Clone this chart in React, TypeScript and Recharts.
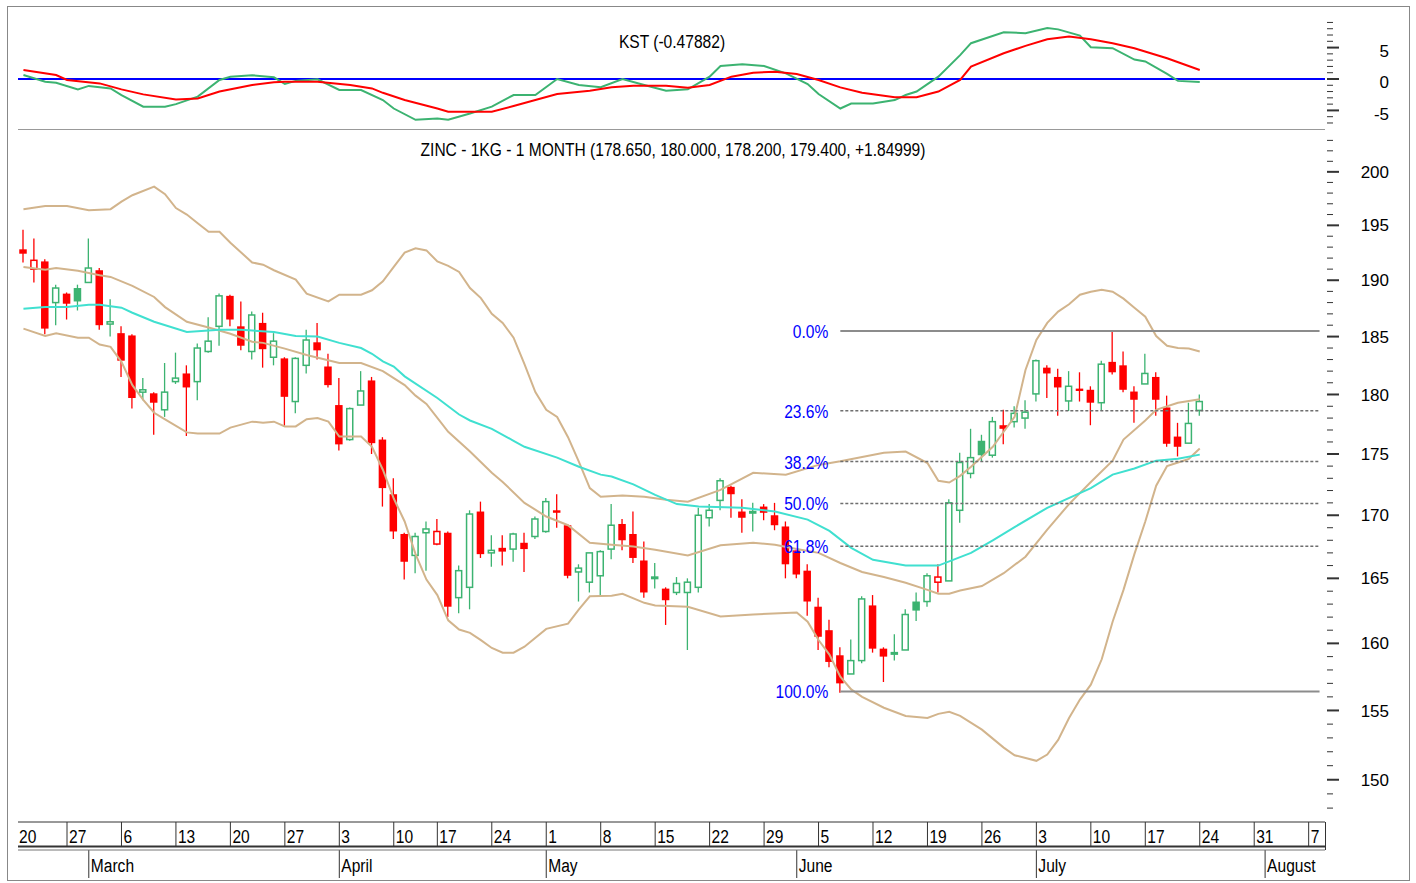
import React from 'react';
import { ComposedChart, Bar, Line, XAxis, YAxis, ReferenceLine } from 'recharts';

const W = 1416;
const H = 883;

// trading calendar (weekdays, Good Friday closed)
const firstDay = '2017-02-21';
const holidays = ['2017-04-14'];
const slotCount = 120;

const weekTicks = [
  '2017-02-21', '2017-02-27', '2017-03-06', '2017-03-13', '2017-03-20', '2017-03-27',
  '2017-04-03', '2017-04-10', '2017-04-17', '2017-04-24', '2017-05-01', '2017-05-08',
  '2017-05-15', '2017-05-22', '2017-05-29', '2017-06-05', '2017-06-12', '2017-06-19',
  '2017-06-26', '2017-07-03', '2017-07-10', '2017-07-17', '2017-07-24', '2017-07-31',
  '2017-08-07',
];
const weekLabels = [
  '20', '27', '6', '13', '20', '27', '3', '10', '17', '24', '1', '8', '15',
  '22', '29', '5', '12', '19', '26', '3', '10', '17', '24', '31', '7',
];
const monthTicks = ['2017-03-01', '2017-04-03', '2017-05-01', '2017-06-01', '2017-07-03', '2017-08-01'];
const monthNames = ['March', 'April', 'May', 'June', 'July', 'August'];

const opens = [
  192.8, 191.0, 191.7, 188.0, 188.8, 189.3, 189.8, 190.9, 186.1, 185.3,
  185.1, 180.2, 180.1, 178.7, 181.1, 181.8, 181.1, 183.7, 185.9, 188.6,
  185.9, 183.7, 186.2, 183.2, 183.1, 179.4, 182.5, 184.5, 182.4, 179.1,
  176.2, 179.1, 181.2, 176.2, 171.7, 168.5, 166.8, 168.6, 167.7, 168.6,
  163.5, 164.3, 170.3, 167.0, 167.4, 167.3, 167.8, 168.3, 168.7, 170.4,
  169.2, 165.5, 164.7, 165.2, 167.3, 169.3, 168.5, 166.4, 165.0, 164.2,
  163.9, 163.9, 164.3, 169.8, 171.2, 172.3, 170.3, 170.2, 170.7, 170.0,
  169.1, 167.2, 165.6, 162.8, 161.0, 159.1, 157.7, 158.7, 162.9, 159.6,
  159.2, 159.5, 163.2, 163.2, 164.7, 164.8, 170.4, 173.4, 176.1, 174.9,
  177.4, 177.7, 178.0, 180.05, 182.3, 181.5, 179.45, 180.5, 180.4, 179.3,
  182.8, 182.5, 180.25, 180.9, 181.5, 178.9, 176.45, 175.9, 178.65,
];
const highs = [
  194.6, 193.8, 191.9, 189.6, 188.9, 189.6, 193.8, 191.1, 188.3, 185.9,
  185.2, 181.4, 180.2, 182.7, 183.6, 182.5, 184.4, 186.7, 188.8, 188.7,
  188.1, 187.2, 187.1, 185.3, 183.2, 183.2, 185.6, 186.2, 183.5, 181.4,
  178.9, 182.0, 181.5, 176.4, 173.0, 168.6, 168.6, 169.5, 169.7, 168.7,
  166.0, 170.4, 171.1, 168.4, 168.4, 168.6, 168.6, 169.9, 171.4, 171.7,
  169.3, 166.1, 167.0, 167.2, 170.9, 169.7, 170.3, 167.9, 166.2, 164.3,
  165.1, 165.0, 170.6, 170.9, 173.0, 172.4, 171.3, 171.0, 170.9, 171.0,
  169.5, 167.3, 166.1, 163.5, 161.8, 159.7, 160.3, 163.6, 163.7, 159.7,
  160.7, 162.6, 163.9, 165.4, 166.1, 171.3, 175.1, 177.1, 176.6, 178.1,
  178.7, 179.0, 179.5, 183.0, 182.5, 182.2, 182.0, 181.9, 180.7, 182.9,
  185.5, 183.7, 180.7, 183.5, 181.9, 179.9, 177.6, 179.3, 180.0,
];
const lows = [
  191.6, 189.8, 185.2, 186.0, 186.5, 187.3, 189.8, 185.6, 185.0, 181.5,
  178.8, 179.5, 176.6, 178.1, 180.9, 176.5, 179.5, 183.6, 184.2, 185.9,
  183.8, 183.0, 182.3, 182.5, 177.3, 178.4, 181.8, 183.0, 180.6, 175.3,
  176.1, 179.1, 175.0, 170.7, 168.1, 164.9, 165.4, 165.6, 167.6, 162.0,
  162.3, 162.6, 166.6, 165.9, 166.0, 166.3, 165.5, 168.1, 168.6, 169.0,
  165.0, 163.2, 163.9, 163.7, 166.5, 167.2, 166.2, 163.5, 164.2, 161.4,
  163.7, 159.5, 163.9, 169.1, 170.4, 169.8, 168.6, 168.7, 169.6, 168.8,
  165.0, 165.0, 162.1, 159.5, 158.2, 156.3, 157.7, 158.5, 159.3, 157.1,
  158.7, 159.5, 161.7, 162.8, 163.9, 164.8, 169.4, 173.0, 174.4, 174.7,
  175.8, 177.2, 177.1, 179.4, 179.7, 178.2, 178.6, 179.4, 177.4, 178.6,
  181.7, 180.2, 177.6, 180.9, 178.2, 175.6, 174.8, 175.9, 178.2,
];
const closes = [
  192.4, 191.8, 185.7, 189.3, 187.9, 188.1, 191.1, 186.0, 186.3, 182.9,
  179.7, 180.4, 179.3, 180.2, 181.4, 180.6, 184.0, 184.6, 188.6, 186.5,
  184.2, 186.9, 183.9, 184.6, 179.8, 183.1, 184.7, 183.8, 180.8, 175.8,
  178.8, 180.3, 175.9, 172.2, 168.7, 166.3, 168.3, 168.9, 168.7, 162.8,
  165.6, 170.1, 166.9, 167.2, 167.1, 168.5, 167.3, 169.7, 171.1, 170.2,
  165.2, 165.8, 167.0, 167.1, 169.2, 168.0, 166.6, 163.9, 165.1, 163.3,
  164.6, 164.7, 170.0, 170.4, 172.8, 171.7, 169.8, 170.3, 170.2, 169.2,
  166.1, 165.3, 163.2, 160.5, 158.6, 157.0, 158.7, 163.4, 159.6, 159.0,
  159.3, 162.2, 162.5, 165.2, 165.1, 171.0, 174.3, 174.7, 174.9, 177.7,
  177.1, 178.4, 178.5, 182.9, 181.8, 180.6, 180.7, 180.3, 179.3, 182.6,
  181.9, 180.4, 179.55, 181.8, 179.55, 175.85, 175.6, 177.55, 179.4,
];

// indicator readings: [candle index, value]
const upperBand = [
  [0, 196.5], [2, 196.8], [4, 196.8], [6, 196.4], [8, 196.5], [9, 197.2], [10, 197.8], [12, 198.6],
  [13, 197.9], [14, 196.6], [15, 196.0], [16, 195.2], [17, 194.4], [18, 194.4], [19, 193.4], [21, 191.6],
  [22, 191.4], [23, 190.9], [25, 190.05], [26, 188.8], [28, 188.1], [29, 188.7], [31, 188.7], [32, 189.1],
  [33, 189.9], [34, 191.2], [35, 192.5], [36, 192.9], [37, 192.7], [38, 191.7], [39, 191.3], [40, 190.75],
  [41, 189.3], [42, 188.4], [43, 187.0], [44, 186.2], [45, 184.9], [46, 182.6], [47, 180.2], [48, 178.7],
  [49, 178.1], [50, 176.4], [51, 174.35], [52, 172.2], [53, 171.5], [55, 171.6], [57, 171.5], [59, 171.25],
  [61, 171.1], [64, 172.05], [67, 173.45], [70, 173.3], [73, 174.1], [75, 174.4], [79, 175.1], [81, 175.2],
  [83, 174.25], [84, 172.8], [85, 172.65], [86, 173.2], [87, 173.95], [89, 175.6], [90, 176.85], [91, 178.1],
  [92, 182.1], [93, 184.7], [94, 186.2], [95, 187.2], [96, 187.85], [97, 188.7], [98, 188.97], [99, 189.15],
  [100, 188.97], [101, 188.35], [102, 187.55], [103, 186.75], [104, 185.05], [105, 184.2], [106, 184.0],
  [107, 183.95], [108, 183.7],
];
const midBand = [
  [0, 191.2], [2, 190.95], [3, 191.1], [5, 190.85], [7, 190.45], [8, 190.3], [10, 189.5], [12, 188.5],
  [13, 187.6], [15, 186.3], [17, 185.8], [19, 185.25], [21, 184.55], [22, 184.45], [24, 183.95], [26, 183.4],
  [29, 182.7], [31, 182.7], [33, 182.0], [35, 180.8], [36, 179.9], [37, 179.2], [39, 176.85], [41, 175.2],
  [43, 173.45], [44, 172.7], [46, 171.0], [48, 169.9], [50, 169.2], [52, 167.8], [54, 167.65], [56, 167.5],
  [58, 167.25], [61, 166.8], [64, 167.6], [67, 167.8], [69, 167.65], [71, 167.3], [73, 167.0], [75, 166.2],
  [77, 165.5], [79, 165.1], [81, 164.65], [83, 164.1], [84, 163.8], [85, 163.8], [86, 164.05], [88, 164.4],
  [90, 165.4], [92, 166.7], [94, 168.85], [96, 170.9], [98, 172.7], [100, 174.45], [101, 176.2], [103, 177.8],
  [104, 178.7], [106, 179.3], [108, 179.6],
];
const lowerBand = [
  [0, 185.7], [2, 185.05], [3, 185.3], [5, 184.9], [6, 184.9], [7, 184.3], [8, 184.1], [9, 182.8],
  [10, 180.8], [11, 179.55], [12, 178.45], [13, 177.9], [15, 176.8], [16, 176.7], [18, 176.7], [19, 177.2],
  [21, 177.7], [22, 177.6], [23, 177.7], [24, 177.3], [25, 177.3], [26, 177.9], [27, 178.0], [28, 177.7],
  [29, 176.45], [31, 176.45], [32, 175.6], [33, 173.7], [34, 171.35], [35, 169.5], [36, 166.9], [37, 164.9],
  [38, 163.7], [39, 161.75], [40, 161.05], [41, 160.8], [42, 160.25], [43, 159.65], [44, 159.3], [45, 159.3],
  [46, 159.75], [48, 161.1], [50, 161.5], [51, 162.6], [52, 163.6], [54, 163.65], [55, 163.8], [57, 163.1],
  [58, 162.9], [61, 162.8], [64, 162.05], [67, 162.2], [71, 162.35], [72, 161.65], [73, 160.25], [74, 159.15],
  [75, 157.5], [76, 156.55], [77, 156.0], [79, 155.2], [81, 154.6], [83, 154.45], [84, 154.75], [85, 154.9],
  [86, 154.6], [88, 153.6], [90, 152.3], [91, 151.75], [93, 151.35], [94, 151.8], [95, 152.85], [96, 154.45],
  [97, 155.8], [98, 156.9], [99, 158.8], [100, 161.65], [101, 164.1], [102, 166.9], [103, 169.5], [104, 172.4],
  [105, 174.0], [106, 174.3], [107, 174.6], [108, 175.45],
];
const movingAvg = [
  [0, 187.45], [2, 187.6], [4, 187.6], [6, 187.8], [7, 187.8], [9, 187.55], [10, 187.1], [12, 186.3],
  [15, 185.4], [18, 185.6], [20, 185.6], [23, 185.4], [25, 185.05], [27, 185.0], [29, 184.45], [31, 184.0],
  [32, 183.5], [33, 182.85], [34, 182.4], [35, 181.55], [38, 179.7], [40, 178.3], [41, 177.8], [43, 177.1],
  [45, 176.1], [46, 175.6], [49, 174.7], [51, 173.95], [53, 173.3], [54, 173.15], [56, 172.5], [58, 171.65],
  [60, 170.9], [62, 170.7], [66, 170.6], [69, 170.3], [72, 169.65], [74, 168.75], [76, 167.4], [78, 166.45],
  [81, 166.0], [84, 166.0], [87, 167.0], [89, 168.0], [91, 169.05], [94, 170.6], [98, 172.2], [100, 173.3],
  [102, 173.8], [104, 174.45], [106, 174.6], [108, 174.95],
];
const kst = [
  [0, 0.64], [2, -0.43], [3, -0.6], [5, -1.65], [6, -1.1], [8, -1.5], [9, -2.55], [11, -4.4], [13, -4.4],
  [14, -4.0], [16, -2.8], [18, -0.16], [19, 0.37], [21, 0.6], [23, 0.27], [24, -0.8], [25, -0.3], [27, -0.05],
  [29, -1.75], [31, -1.75], [33, -3.35], [34, -4.7], [36, -6.5], [38, -6.3], [39, -6.5], [41, -5.5], [43, -4.4],
  [45, -2.55], [47, -2.55], [49, 0], [51, -0.96], [53, -1.3], [55, 0], [57, -0.96], [59, -1.86], [61, -1.65],
  [63, 0.37], [64, 2.07], [66, 2.34], [68, 2.07], [70, 0.9], [72, -0.8], [73, -2.4], [75, -4.7], [76, -3.9],
  [78, -3.9], [80, -3.35], [81, -2.55], [82, -2.0], [84, 0.37], [86, 3.8], [87, 5.7], [90, 7.45], [92, 7.3],
  [94, 8.1], [95, 7.9], [97, 6.9], [98, 5.05], [100, 4.9], [102, 3.1], [103, 2.8], [105, 0.8], [106, -0.3],
  [108, -0.48],
];
const kstSignal = [
  [0, 1.44], [3, 0.64], [4, -0.16], [7, -0.7], [9, -1.65], [11, -2.45], [14, -3.25], [16, -3.1], [18, -2.0],
  [21, -0.96], [23, -0.53], [24, -0.43], [27, -0.43], [30, -0.96], [32, -1.5], [33, -2.2], [35, -3.35],
  [38, -4.7], [39, -5.2], [43, -5.2], [45, -4.3], [47, -3.35], [49, -2.4], [52, -1.86], [54, -1.33],
  [56, -1.06], [59, -1.06], [61, -1.4], [63, -0.96], [65, 0.37], [67, 1.0], [69, 1.17], [71, 0.8], [73, -0.16],
  [75, -1.33], [77, -2.2], [80, -2.9], [82, -2.9], [84, -2.0], [86, -0.16], [87, 1.97], [90, 4.1], [92, 5.27],
  [94, 6.33], [96, 6.76], [98, 6.33], [100, 5.7], [102, 4.9], [105, 3.3], [108, 1.44],
];

// fibonacci retracement from the June low (candle 75)
const fibFrom = 75;
const fibLabels = ['0.0%', '23.6%', '38.2%', '50.0%', '61.8%', '100.0%'];
const fibValues = [185.5, 178.63, 174.38, 170.95, 167.52, 156.4];

const priceTicks = Array.from({ length: 56 }, (_, i) => 148 + i);
const kstTicks = Array.from({ length: 17 }, (_, i) => -7 + i);
const kstLabels = [-5, 0, 5];

const kstTitle = 'KST (-0.47882)';
const priceTitle = 'ZINC - 1KG - 1 MONTH (178.650, 180.000, 178.200, 179.400, +1.84999)';

const RED = '#FF0000';
const GREEN = '#3CB371';
const TAN = '#D2B48C';
const CYAN = '#40E0D0';
const FONT = '"Liberation Sans", Arial, sans-serif';

const buildSlots = () => {
  const out: string[] = [];
  const d = new Date(firstDay + 'T00:00:00Z');
  while (out.length < slotCount) {
    const key = d.toISOString().slice(0, 10);
    const wd = d.getUTCDay();
    if (wd !== 0 && wd !== 6 && !holidays.includes(key)) out.push(key);
    d.setUTCDate(d.getUTCDate() + 1);
  }
  return out;
};

const rows: any[] = buildSlots().map((date, i) => {
  const row: any = { date };
  if (i < closes.length) {
    row.open = opens[i];
    row.high = highs[i];
    row.low = lows[i];
    row.close = closes[i];
    row.prevClose = i > 0 ? closes[i - 1] : null;
    row.range = [lows[i], highs[i]];
  }
  return row;
});

const put = (pts: number[][], key: string) => {
  pts.forEach(([i, v]) => { rows[i][key] = v; });
};
put(upperBand, 'upper');
put(midBand, 'mid');
put(lowerBand, 'lower');
put(movingAvg, 'ma');
put(kst, 'kst');
put(kstSignal, 'signal');
fibValues.forEach((v, j) => {
  for (let k = fibFrom; k < slotCount; k++) rows[k]['fib' + j] = v;
});

const Narrow = ({ x, y, children, anchor = 'start', fill = '#000', size = 19 }: any) => (
  <text
    transform={`translate(${x},${y}) scale(0.82,1)`}
    textAnchor={anchor}
    fontFamily={FONT}
    fontSize={size}
    fill={fill}
  >
    {children}
  </text>
);

const Candle = (props: any) => {
  const { x, y, width, height, payload } = props;
  if (!payload || payload.open == null) return <g />;
  const { open, close, high, low, prevClose } = payload;
  const top = Math.min(y, y + height);
  const bot = Math.max(y, y + height);
  const lnH = Math.log(high);
  const span = lnH - Math.log(low) || 1;
  const toY = (v: number) => top + ((bot - top) * (lnH - Math.log(v))) / span;
  const up = prevClose == null ? close >= open : close >= prevClose;
  const color = up ? GREEN : RED;
  const cx = x + width / 2;
  const yo = toY(open);
  const yc = toY(close);
  const bTop = Math.min(yo, yc);
  const bH = Math.max(Math.abs(yo - yc), 1.5);
  const hollow = close > open;
  return (
    <g>
      <line x1={cx} x2={cx} y1={top} y2={bot} stroke={color} strokeWidth={1.3} />
      {hollow ? (
        <rect x={cx - 3} y={bTop} width={6} height={bH} fill="#fff" stroke={color} strokeWidth={1.5} />
      ) : (
        <rect x={cx - 3.75} y={bTop} width={7.5} height={bH} fill={color} />
      )}
    </g>
  );
};

const DateTick = (props: any) => {
  const { x, y, payload } = props;
  const date = payload.value as string;
  const w = weekTicks.indexOf(date);
  const m = monthTicks.indexOf(date);
  if (w < 0 && m < 0) return <g />;
  const first = w === 0;
  return (
    <g>
      {w >= 0 && !first && <line x1={x} x2={x} y1={y} y2={y + 25} stroke="#333" />}
      {w >= 0 && <Narrow x={first ? 19 : x + 2} y={y + 21}>{weekLabels[w]}</Narrow>}
      {m >= 0 && <line x1={x} x2={x} y1={y + 28} y2={y + 56} stroke="#333" />}
      {m >= 0 && <Narrow x={x + 2} y={y + 50}>{monthNames[m]}</Narrow>}
    </g>
  );
};

const PriceTick = (props: any) => {
  const { x, y, payload } = props;
  const v = payload.value as number;
  const major = v % 5 === 0;
  return (
    <g>
      <line x1={x + 2} x2={x + (major ? 14 : 8)} y1={y} y2={y} stroke="#333" strokeWidth={major ? 2 : 1} />
      {major && (
        <text x={x + 64} y={y} dy="0.36em" textAnchor="end" fontFamily={FONT} fontSize={17} fill="#000">
          {v}
        </text>
      )}
    </g>
  );
};

const KstTick = (props: any) => {
  const { x, y, payload } = props;
  const v = payload.value as number;
  const major = v % 5 === 0;
  return (
    <g>
      <line x1={x + 2} x2={x + (major ? 14 : 8)} y1={y} y2={y} stroke="#333" strokeWidth={major ? 2 : 1} />
      {kstLabels.includes(v) && (
        <text x={x + 64} y={y + 3} dy="0.36em" textAnchor="end" fontFamily={FONT} fontSize={17} fill="#000">
          {v}
        </text>
      )}
    </g>
  );
};

const fibLabel = (j: number) => (p: any) => {
  if (p.index !== fibFrom || p.value == null) return <g />;
  return (
    <Narrow x={p.x - 12} y={p.y + 7} anchor="end" fill="#0000FF">
      {fibLabels[j]}
    </Narrow>
  );
};

const margins = { right: 11, left: 18 };

export default function App() {
  return (
    <div style={{ position: 'absolute', left: 0, top: 0, width: W, height: H, background: '#fff' }}>
      <div style={{ position: 'absolute', left: 0, top: 0 }}>
        <ComposedChart width={W} height={130} data={rows} margin={{ top: 8, bottom: 2, ...margins }}>
          <XAxis dataKey="date" scale="band" hide />
          <YAxis
            orientation="right"
            domain={[-7.8, 11.3]}
            allowDataOverflow
            ticks={kstTicks}
            interval={0}
            width={80}
            tickSize={0}
            tickMargin={0}
            tickLine={false}
            axisLine={false}
            tick={KstTick}
          />
          <ReferenceLine y={0} stroke="#0000FF" strokeWidth={2} />
          <Line dataKey="kst" stroke={GREEN} strokeWidth={2} dot={false} connectNulls isAnimationActive={false} />
          <Line dataKey="signal" stroke={RED} strokeWidth={2} dot={false} connectNulls isAnimationActive={false} />
        </ComposedChart>
      </div>
      <div style={{ position: 'absolute', left: 0, top: 0 }}>
        <ComposedChart width={W} height={H} data={rows} margin={{ top: 130, bottom: 0, ...margins }}>
          <XAxis
            dataKey="date"
            scale="band"
            interval={0}
            height={61}
            tickSize={0}
            tickMargin={0}
            tickLine={false}
            axisLine={{ stroke: '#333' }}
            tick={DateTick}
          />
          <YAxis
            orientation="right"
            scale="log"
            domain={[147.03, 204]}
            allowDataOverflow
            ticks={priceTicks}
            interval={0}
            width={80}
            tickSize={0}
            tickMargin={0}
            tickLine={false}
            axisLine={false}
            tick={PriceTick}
          />
          <Line dataKey="upper" stroke={TAN} strokeWidth={2} dot={false} connectNulls isAnimationActive={false} />
          <Line dataKey="mid" stroke={TAN} strokeWidth={2} dot={false} connectNulls isAnimationActive={false} />
          <Line dataKey="lower" stroke={TAN} strokeWidth={2} dot={false} connectNulls isAnimationActive={false} />
          <Line dataKey="ma" stroke={CYAN} strokeWidth={2} dot={false} connectNulls isAnimationActive={false} />
          <Bar dataKey="range" barSize={8} shape={Candle} isAnimationActive={false} />
          {fibValues.map((_, j) => {
            const solid = j === 0 || j === fibValues.length - 1;
            return (
              <Line
                key={j}
                dataKey={'fib' + j}
                stroke={solid ? '#8C8C8C' : '#6E6E6E'}
                strokeWidth={solid ? 2 : 1.5}
                strokeDasharray={solid ? undefined : '3 2'}
                dot={false}
                label={fibLabel(j)}
                isAnimationActive={false}
              />
            );
          })}
        </ComposedChart>
      </div>
      <svg width={W} height={H} style={{ position: 'absolute', left: 0, top: 0, pointerEvents: 'none' }}>
        <rect x={7.5} y={6.5} width={1402} height={874} fill="none" stroke="#888" />
        <line x1={18} x2={1325} y1={129.5} y2={129.5} stroke="#999" />
        <line x1={18} x2={1325} y1={846.5} y2={846.5} stroke="#333" strokeWidth={2} />
        <line x1={18} x2={1325} y1={850} y2={850} stroke="#777" />
        <line x1={1325.5} x2={1325.5} y1={822} y2={850} stroke="#333" />
        <Narrow x={672} y={48} anchor="middle">{kstTitle}</Narrow>
        <Narrow x={673} y={156} anchor="middle">{priceTitle}</Narrow>
      </svg>
    </div>
  );
}
